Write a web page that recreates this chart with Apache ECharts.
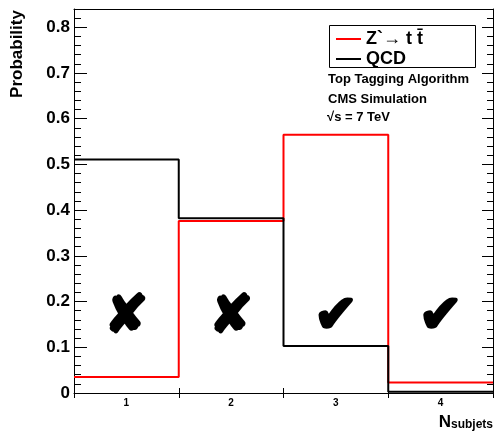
<!DOCTYPE html>
<html>
<head>
<meta charset="utf-8">
<script src="https://cdn.jsdelivr.net/npm/echarts@6/dist/echarts.min.js"></script>
<style>
  html, body { margin: 0; padding: 0; background: #fff; }
  #chart { width: 495px; height: 438px; }
</style>
</head>
<body>
<div id="chart"></div>
<script>
// Number of subjets per jet, normalised distributions
const categories = ['1', '2', '3', '4'];
const binCenters = [1, 2, 3, 4];
const signalProb = [0.035, 0.376, 0.565, 0.023];   // Z' -> t tbar
const qcdProb    = [0.511, 0.382, 0.103, 0.003];   // QCD
const yTicks = [0, 0.1, 0.2, 0.3, 0.4, 0.5, 0.6, 0.7, 0.8];
// verdict per bin: rejected (cross) or accepted (check)
const verdict = ['\u2718', '\u2718', '\u2714', '\u2714'];
const markHeight = 0.164;

const FONT = '"Liberation Sans", Arial, Helvetica, sans-serif';

// histogram outline: each bin drawn from its low edge to its high edge
function stepPoints(vals) {
  const pts = binCenters.map((c, i) => [c - 0.5, vals[i]]);
  pts.push([binCenters[binCenters.length - 1] + 0.5, vals[vals.length - 1]]);
  return pts;
}

const chart = echarts.init(document.getElementById('chart'), null, { renderer: 'canvas' });

const yBase = {
  type: 'value', min: 0, max: 0.84, interval: 0.1,
  splitLine: { show: false },
  axisLine: { show: true, lineStyle: { color: '#000', width: 1 } }
};

chart.setOption({
  animation: false,
  backgroundColor: '#fff',
  grid: { left: 74, right: 2, top: 9, bottom: 45, containLabel: false, outerBoundsMode: 'none' },
  xAxis: [
    { // numeric scale used by the histogram lines
      type: 'value', min: 0.5, max: 4.5, show: false
    },
    { // bin labels and outward ticks
      type: 'category', data: categories, position: 'bottom', boundaryGap: true,
      axisLine: { show: true, lineStyle: { color: '#000', width: 1 } },
      axisTick: { show: true, inside: false, length: 5, lineStyle: { color: '#000' } },
      axisLabel: { fontFamily: FONT, fontWeight: 'bold', fontSize: 10, color: '#000', margin: 5 },
      splitLine: { show: false }
    },
    { // inward ticks on the same bottom axis
      type: 'category', data: categories, position: 'bottom', boundaryGap: true,
      axisLine: { show: false },
      axisTick: { show: true, inside: true, length: 5, lineStyle: { color: '#000' } },
      axisLabel: { show: false },
      splitLine: { show: false }
    },
    { // top frame
      type: 'category', data: categories, position: 'top',
      axisLine: { show: true, lineStyle: { color: '#000', width: 1 } },
      axisTick: { show: false }, axisLabel: { show: false }
    }
  ],
  yAxis: [
    Object.assign({}, yBase, {
      position: 'left',
      axisTick: { show: true, inside: true, length: 13, lineStyle: { color: '#000' } },
      minorTick: { show: true, splitNumber: 5, length: 7, lineStyle: { color: '#000' } },
      axisLabel: {
        fontFamily: FONT, fontWeight: 'bold', fontSize: 17, color: '#000', margin: 4,
        customValues: yTicks,
        formatter: v => (Math.round(v * 10) / 10).toString()
      }
    }),
    Object.assign({}, yBase, {
      position: 'right',
      axisTick: { show: true, inside: true, length: 11, lineStyle: { color: '#000' } },
      minorTick: { show: true, splitNumber: 5, length: 6, lineStyle: { color: '#000' } },
      axisLabel: { show: false }
    })
  ],
  legend: {
    show: true, orient: 'vertical', left: 331, top: 25,
    itemWidth: 25, itemHeight: 2, itemGap: 2, icon: 'rect',
    textStyle: { fontFamily: FONT, fontWeight: 'bold', fontSize: 18, color: '#000', padding: [0, 0, 0, 0] },
    data: [
      { name: 'Z`\u2192 t t\u0304', itemStyle: { color: '#ff0000' } },
      { name: 'QCD', itemStyle: { color: '#000' } }
    ]
  },
  series: [
    {
      name: 'Z`\u2192 t t\u0304', type: 'line', step: 'end', xAxisIndex: 0, yAxisIndex: 0,
      data: stepPoints(signalProb), showSymbol: false, symbol: 'none',
      lineStyle: { color: '#ff0000', width: 2 }, itemStyle: { color: '#ff0000' }, z: 3
    },
    {
      name: 'QCD', type: 'line', step: 'end', xAxisIndex: 0, yAxisIndex: 0,
      data: stepPoints(qcdProb), showSymbol: false, symbol: 'none',
      lineStyle: { color: '#000', width: 2 }, itemStyle: { color: '#000' }, z: 4
    },
    {
      name: 'verdict', type: 'scatter', xAxisIndex: 0, yAxisIndex: 0,
      data: binCenters.map((c, i) => ({ value: [c, markHeight], mark: verdict[i] })),
      symbolSize: 0, silent: true,
      itemStyle: { opacity: 1, color: '#000' },
      label: {
        show: true, position: 'inside', opacity: 1,
        formatter: p => p.data.mark,
        fontFamily: '"DejaVu Sans", sans-serif', fontSize: 52, color: '#000',
        textBorderColor: '#000', textBorderWidth: 3
      }
    }
  ],
  graphic: [
    { type: 'text', x: 17, y: 54, rotation: Math.PI / 2,
      style: { text: 'Probability', font: 'bold 17px ' + FONT, fill: '#000',
               align: 'center', verticalAlign: 'middle' } },
    { type: 'rect', left: 327, top: 23, shape: { width: 146, height: 42 },
      style: { fill: 'none', stroke: '#000', lineWidth: 1 }, z: 10 },
    { type: 'text', left: 328, top: 73,
      style: { text: 'Top Tagging Algorithm', font: 'bold 13px ' + FONT, fill: '#000' } },
    { type: 'text', left: 328, top: 93,
      style: { text: 'CMS Simulation', font: 'bold 13px ' + FONT, fill: '#000' } },
    { type: 'text', left: 327, top: 111,
      style: { text: '\u221As = 7 TeV', font: 'bold 13px ' + FONT, fill: '#000' } },
    { type: 'text', right: 2, top: 414,
      style: {
        text: '{n|N}{s|subjets}',
        rich: {
          n: { fontFamily: FONT, fontWeight: 'bold', fontSize: 17, fill: '#000', verticalAlign: 'bottom' },
          s: { fontFamily: FONT, fontWeight: 'bold', fontSize: 12, fill: '#000', padding: [6, 0, 0, 0], verticalAlign: 'bottom' }
        }
      } }
  ]
});
</script>
</body>
</html>
